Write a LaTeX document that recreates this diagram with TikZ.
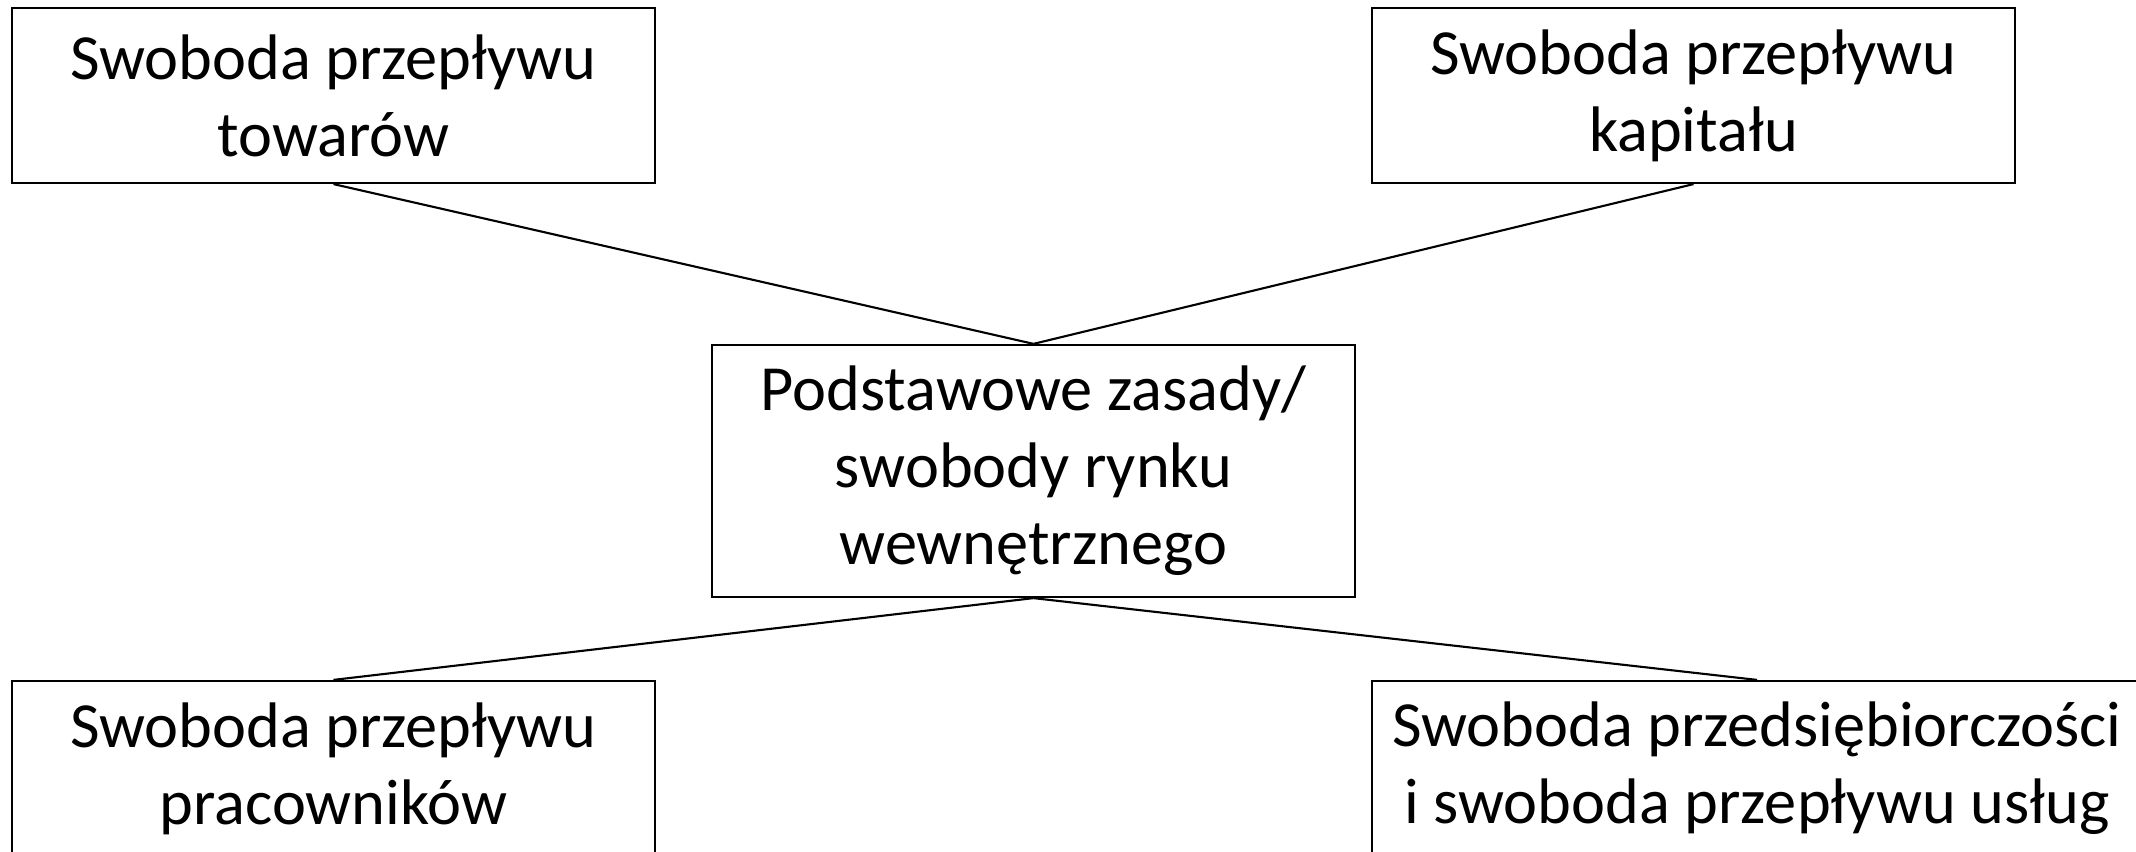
\documentclass[tikz,border=0pt]{standalone}
\usepackage{fontspec}
\setmainfont{Carlito}
\usetikzlibrary{calc}

\tikzset{zasada/.style={draw,line width=0.6pt,align=center,inner sep=0pt,
  font=\fontsize{18.3pt}{21.9pt}\selectfont}}

\begin{document}
\begin{tikzpicture}[x=0.01cm,y=-0.01cm]
 \clip (0,0) rectangle (2136,852);
 %
 \node[zasada,minimum width=6.43cm,minimum height=1.75cm] (towary) at (333.5,95.5)
  {Swoboda przepływu\\towarów};
 \node[zasada,minimum width=6.43cm,minimum height=1.75cm] (kapital) at (1693.5,95.5)
  {Swoboda przepływu\\kapitału};
 \node[zasada,minimum width=6.43cm,minimum height=2.52cm] (rynek) at (1033.5,471)
  {Podstawowe zasady/\\swobody rynku\\wewnętrznego};
 \node[zasada,minimum width=6.43cm,minimum height=1.75cm] (pracownicy) at (333.5,768.5)
  {Swoboda przepływu\\pracowników};
 \node[zasada,minimum width=7.70cm,minimum height=1.75cm] (uslugi) at (1757,768.5)
  {Swoboda przedsiębiorczości\\i swoboda przepływu usług};
 %
 \foreach \X in {towary,kapital}
 {\draw[line width=0.6pt] (\X.south) -- (rynek.north);}
 \foreach \X in {pracownicy,uslugi}
 {\draw[line width=0.6pt] (rynek.south) -- (\X.north);}
\end{tikzpicture}
\end{document}
